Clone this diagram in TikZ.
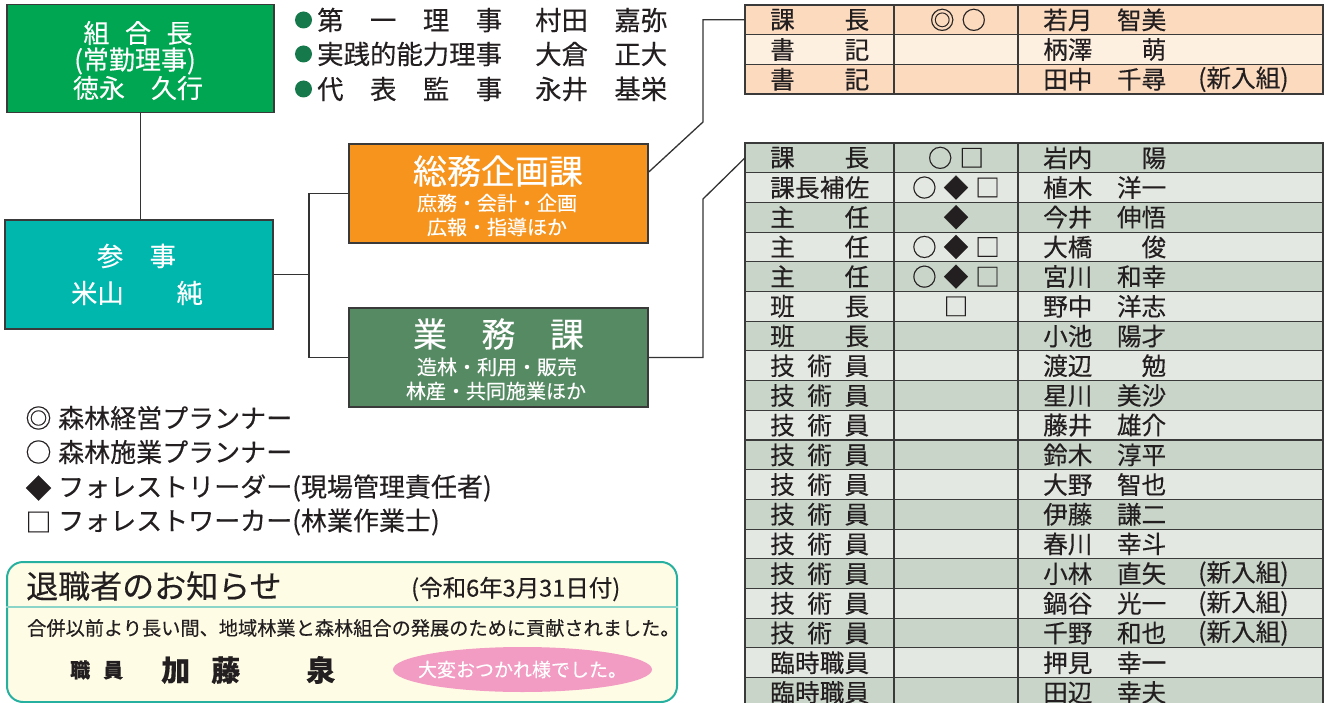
\documentclass[tikz,border=0pt]{standalone}
\usepackage{fontspec}
\setmainfont{Noto Sans CJK JP}[FakeBold=0.3]
\usetikzlibrary{shapes.geometric}
\definecolor{kgreen}{HTML}{00A651}
\definecolor{kteal}{HTML}{00B7AE}
\definecolor{korange}{HTML}{F7941D}
\definecolor{kgyomu}{HTML}{558A63}
\definecolor{boxline}{HTML}{3A3A3A}
\definecolor{linec}{HTML}{333333}
\definecolor{textc}{HTML}{231F20}
\definecolor{peachA}{HTML}{FBDABE}
\definecolor{peachB}{HTML}{FEF0E1}
\definecolor{grayA}{HTML}{C9D5C9}
\definecolor{grayB}{HTML}{E3E9E2}
\definecolor{bulletc}{HTML}{16794B}
\definecolor{retline}{HTML}{26B0A0}
\definecolor{retdiv}{HTML}{8AD5C8}
\definecolor{retfill}{HTML}{FFFCE6}
\definecolor{pinkc}{HTML}{F29CC3}
\newcommand{\fs}[1]{\fontsize{#1}{#1}\selectfont}
\newcommand{\symgap}{\hspace{7pt}}
\begin{document}
\begin{tikzpicture}[x=1pt,y=-1pt,
  orgbox/.style={draw=boxline, line width=1.5pt, inner sep=0pt},
  wt/.style={inner sep=0pt, text=white},
  bt/.style={inner sep=0pt, text=textc},
  conn/.style={draw=linec, line width=1.3pt},
  trow/.style={draw=boxline, line width=1.1pt, minimum width=578pt, minimum height=29.7pt, inner sep=0pt, outer sep=0pt},
  tabouter/.style={draw=boxline, line width=1.8pt},
  tabinner/.style={draw=boxline, line width=1.1pt}]
\useasboundingbox (0,0) rectangle (1325,703);
\clip (0,0) rectangle (1325,703);

% ---------- organisation boxes ----------
\node[orgbox, fill=kgreen, minimum width=267pt, minimum height=108pt] (kumiai) at (140.5,58.5) {};
\node[wt, font=\fs{26}] (kumiai-t1) at (138,33) {\makebox[109pt][s]{組\hfill 合\hfill 長}};
\node[wt, font=\fs{26}] (kumiai-t2) at (135,61) {(常勤理事)};
\node[wt, font=\fs{26}] (kumiai-t3) at (138,88) {徳永　久行};

\node[orgbox, fill=kteal, minimum width=268pt, minimum height=109pt] (sanji) at (139,274.5) {};
\node[wt, font=\fs{26.4}] (sanji-t1) at (136.5,256) {参　事};
\node[wt, font=\fs{26.4}] (sanji-t2) at (137,293) {米山　　純};

\node[orgbox, fill=korange, minimum width=299pt, minimum height=99pt] (soumu) at (498.5,193.5) {};
\node[wt, font=\fs{34}] (soumu-t1) at (498,171) {総務企画課};
\node[wt, font=\fs{20}] (soumu-t2) at (497,203) {庶務・会計・企画};
\node[wt, font=\fs{20}] (soumu-t3) at (497,227) {広報・指導ほか};

\node[orgbox, fill=kgyomu, minimum width=299pt, minimum height=99pt] (gyomu) at (498.5,357.5) {};
\node[wt, font=\fs{34}] (gyomu-t1) at (498.5,334) {\makebox[171pt][s]{業\hfill 務\hfill 課}};
\node[wt, font=\fs{20}] (gyomu-t2) at (497,367) {造林・利用・販売};
\node[wt, font=\fs{20}] (gyomu-t3) at (496,391) {林産・共同施業ほか};

% ---------- connectors ----------
\coordinate (bus) at (309,0);
\coordinate (j1) at (703,122);
\coordinate (j2) at (703,199);
\draw[conn] (kumiai.south) -- (kumiai.south |- sanji.north);
\draw[conn] (sanji.east) -- (bus |- sanji.east);
\draw[conn] (soumu.west) -- (bus |- soumu.west) -- (bus |- gyomu.west) -- (gyomu.west);

% ---------- officers list ----------
\node[circle, fill=bulletc, minimum size=17pt, inner sep=0pt] (b1) at (303.5,20) {};
\node[circle, fill=bulletc, minimum size=17pt, inner sep=0pt] (b2) at (303.5,54) {};
\node[circle, fill=bulletc, minimum size=17pt, inner sep=0pt] (b3) at (303.5,89) {};
\node[bt, anchor=west, font=\fs{26.4}] (o1t) at (317,20) {\makebox[185pt][s]{第\hfill 一\hfill 理\hfill 事}};
\node[bt, anchor=west, font=\fs{26.4}] (o2t) at (317,54) {実践的能力理事};
\node[bt, anchor=west, font=\fs{26.4}] (o3t) at (317,89) {\makebox[185pt][s]{代\hfill 表\hfill 監\hfill 事}};
\node[bt, anchor=west, font=\fs{26.4}] (o1n) at (535,20) {村田　嘉弥};
\node[bt, anchor=west, font=\fs{26.4}] (o2n) at (535,54) {大倉　正大};
\node[bt, anchor=west, font=\fs{26.4}] (o3n) at (535,89) {永井　基栄};

% ---------- table 1 ----------
\coordinate (c1) at (894,0);
\coordinate (c2) at (1018,0);
\foreach \i/\bg/\ttl/\sym/\nm/\ex in {
  1/peachA/課\hfill 長/◎\symgap ○/若月　智美/,
  2/peachB/書\hfill 記//柄澤　　萌/,
  3/peachA/書\hfill 記//田中　千尋/(新入組)}{
  \pgfmathsetmacro\yc{5+29.7*(\i-0.5)}
  \node[trow, fill=\bg] (t1r\i) at (1034,\yc) {};
  \node[bt, anchor=west, font=\fs{24.6}] (t1a\i) at (770,\yc) {\makebox[99pt][s]{\ttl}};
  \node[bt, font=\fs{24.6}] (t1b\i) at (958,\yc) {\sym};
  \node[bt, anchor=west, font=\fs{24.6}] (t1c\i) at (1043,\yc) {\nm};
  \node[bt, anchor=west, font=\fs{24.6}] (t1d\i) at (1198,\yc) {\ex};
}
\draw[tabinner] (t1r1.north -| c1) -- (t1r3.south -| c1);
\draw[tabinner] (t1r1.north -| c2) -- (t1r3.south -| c2);
\draw[tabouter] (t1r1.north west) rectangle (t1r3.south east);

% ---------- table 2 ----------
\foreach \i/\bg/\ttl/\sym/\nm/\ex in {
  1/grayA/課\hfill 長/○\symgap □/岩内　　陽/,
  2/grayB/課\hfill 長\hfill 補\hfill 佐/○\symgap ◆\symgap □/植木　洋一/,
  3/grayA/主\hfill 任/◆/今井　伸悟/,
  4/grayB/主\hfill 任/○\symgap ◆\symgap □/大橋　　俊/,
  5/grayA/主\hfill 任/○\symgap ◆\symgap □/宮川　和幸/,
  6/grayB/班\hfill 長/□/野中　洋志/,
  7/grayA/班\hfill 長//小池　陽才/,
  8/grayB/技\hfill 術\hfill 員//渡辺　　勉/,
  9/grayA/技\hfill 術\hfill 員//星川　美沙/,
  10/grayB/技\hfill 術\hfill 員//藤井　雄介/,
  11/grayA/技\hfill 術\hfill 員//鈴木　淳平/,
  12/grayB/技\hfill 術\hfill 員//大野　智也/,
  13/grayA/技\hfill 術\hfill 員//伊藤　謙二/,
  14/grayB/技\hfill 術\hfill 員//春川　幸斗/,
  15/grayA/技\hfill 術\hfill 員//小林　直矢/(新入組),
  16/grayB/技\hfill 術\hfill 員//鍋谷　光一/(新入組),
  17/grayA/技\hfill 術\hfill 員//千野　和也/(新入組),
  18/grayB/臨\hfill 時\hfill 職\hfill 員//押見　幸一/,
  19/grayA/臨\hfill 時\hfill 職\hfill 員//田辺　幸夫/}{
  \pgfmathsetmacro\yc{143+29.7*(\i-0.5)}
  \node[trow, fill=\bg] (t2r\i) at (1034,\yc) {};
  \node[bt, anchor=west, font=\fs{24.6}] (t2a\i) at (770,\yc) {\makebox[99pt][s]{\ttl}};
  \node[bt, font=\fs{24.6}] (t2b\i) at (956,\yc) {\sym};
  \node[bt, anchor=west, font=\fs{24.6}] (t2c\i) at (1043,\yc) {\nm};
  \node[bt, anchor=west, font=\fs{24.6}] (t2d\i) at (1198,\yc) {\ex};
}
\draw[tabinner] (t2r1.north -| c1) -- (t2r19.south -| c1);
\draw[tabinner] (t2r1.north -| c2) -- (t2r19.south -| c2);
\draw[tabouter] (t2r1.north west) rectangle (t2r19.south east);

% connectors to tables
\draw[conn] ([yshift=21.5pt]soumu.east) -- (j1) -- (j1 |- t1r1.west) -- (t1r1.west);
\draw[conn] (gyomu.east) -- (j2 |- gyomu.east) -- (j2) -- (t2r1.west);

% ---------- legend ----------
\node[bt, font=\fs{26}] (l1s) at (38.5,418) {◎};
\node[bt, font=\fs{26}] (l2s) at (38.5,452) {○};
\node[bt, font=\fs{26}] (l3s) at (38.5,488) {◆};
\node[bt, font=\fs{26}] (l4s) at (38.5,522) {□};
\node[bt, anchor=west, font=\fs{26}] (l1t) at (58,418) {森林経営プランナー};
\node[bt, anchor=west, font=\fs{26}] (l2t) at (58,452) {森林施業プランナー};
\node[bt, anchor=west, font=\fs{26}] (l3t) at (58,488) {フォレストリーダー(現場管理責任者)};
\node[bt, anchor=west, font=\fs{26}] (l4t) at (58,522) {フォレストワーカー(林業作業士)};

% ---------- retirement notice ----------
\node[draw=retline, line width=2pt, fill=retfill, rounded corners=16pt, minimum width=670pt, minimum height=140pt, inner sep=0pt] (retire) at (342,632) {};
\draw[draw=retdiv, line width=2pt] ([yshift=25pt]retire.west) -- ([yshift=25pt]retire.east);
\node[bt, anchor=west, font=\fs{32}] (rtitle) at (26,586) {退職者のお知らせ};
\node[bt, anchor=west, font=\fs{23.5}] (rdate) at (411,589) {(令和6年3月31日付)};
\node[bt, anchor=west, font=\fs{19.2}] (rbody) at (27,628) {合併以前より長い間、地域林業と森林組合の発展のために貢献されました。};
\node[bt, anchor=west, font=\fs{20}\bfseries] (rpos) at (70,670) {\makebox[53pt][s]{職\hfill 員}};
\node[bt, anchor=west, font=\fs{29}\bfseries] (rname) at (161,670) {加\hspace{21pt}藤\hspace{66pt}泉};
\node[ellipse, fill=pinkc, minimum width=259pt, minimum height=45pt, inner sep=0pt] (thanks) at (522.5,669.5) {};
\node[wt, font=\fs{19}] (thanks-t) at (thanks.center) {大変おつかれ様でした。};
\end{tikzpicture}
\end{document}
